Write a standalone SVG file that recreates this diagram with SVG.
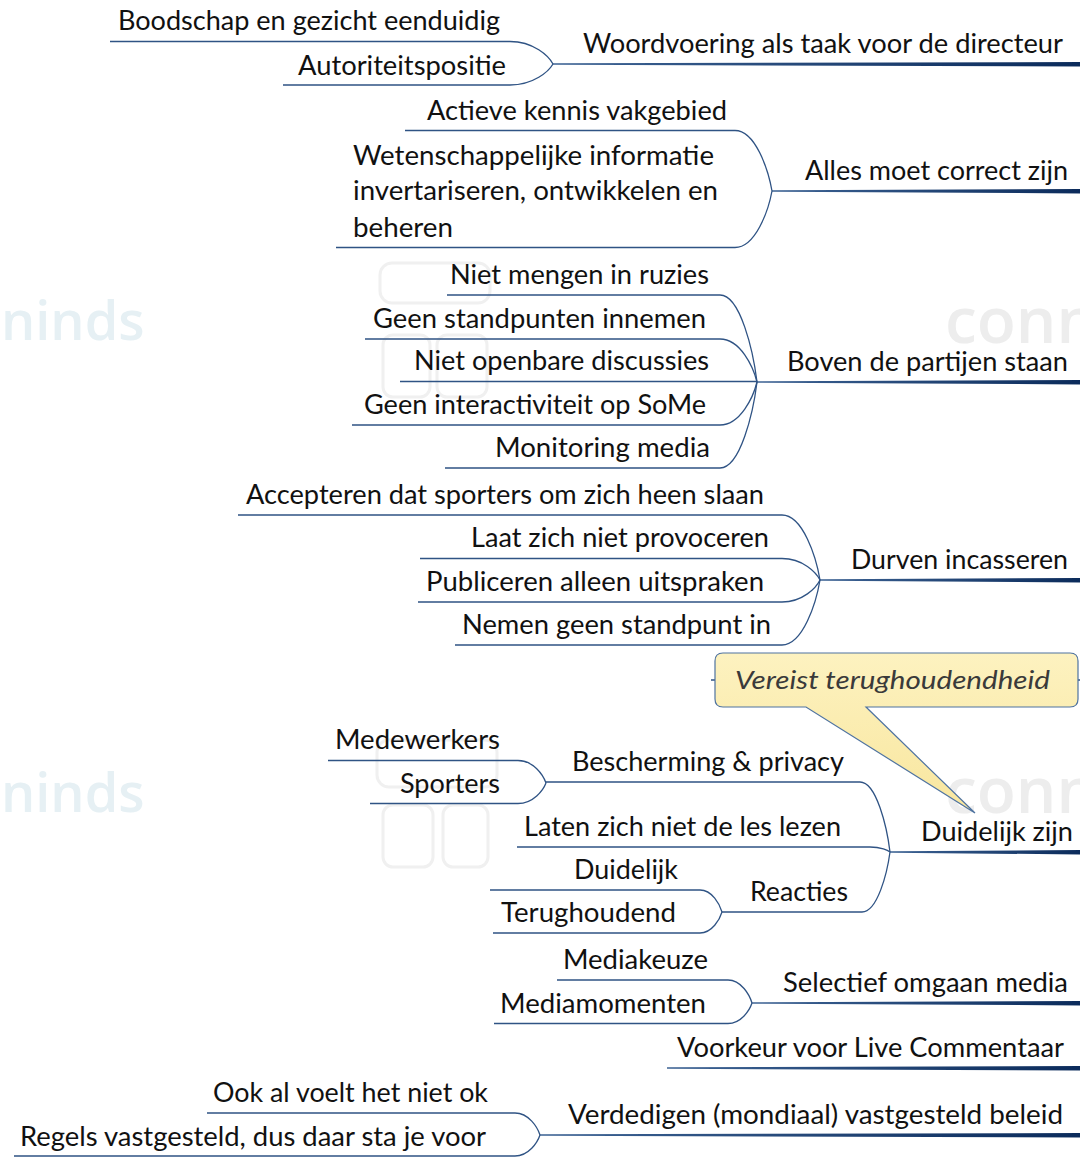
<svg xmlns="http://www.w3.org/2000/svg" width="1080" height="1157" viewBox="0 0 1080 1157">
<defs>
<linearGradient id="thick" x1="0" y1="0" x2="1" y2="0">
<stop offset="0" stop-color="#3d6394"/>
<stop offset="1" stop-color="#0b2b5b"/>
</linearGradient>
<linearGradient id="note" x1="0" y1="0" x2="0" y2="1">
<stop offset="0" stop-color="#fdf2c0"/>
<stop offset="1" stop-color="#f8e69e"/>
</linearGradient>
<style>
text{font-family:Lato,"Liberation Sans",sans-serif;font-size:26px;fill:#111;}
.it{font-style:italic;fill:#3a3a3a;}
.thin{fill:none;stroke:#2f5384;stroke-width:1.3;}
.wm{font-family:"Open Sans","Liberation Sans",sans-serif;font-weight:600;}
.wm1{font-size:54px;fill:#e6f0f4;}
.wm2{font-size:64px;fill:#ededed;}
.ico{fill:none;stroke:#f0f0f0;stroke-width:3;}
</style>
</defs>
<rect width="1080" height="1157" fill="#ffffff"/>

<g id="watermark">
<text class="wm wm1" x="1" y="340">ninds</text>
<text class="wm wm1" x="1" y="812">ninds</text>
<text class="wm wm2" x="945" y="343">conn</text>
<text class="wm wm2" x="945" y="813">conn</text>
<rect class="ico" x="380" y="263" width="110" height="40" rx="12"/>
<rect class="ico" x="383" y="335" width="47" height="62" rx="10"/>
<rect class="ico" x="437" y="335" width="50" height="62" rx="10"/>
<rect class="ico" x="377" y="740" width="120" height="47" rx="12"/>
<rect class="ico" x="383" y="805" width="50" height="62" rx="10"/>
<rect class="ico" x="443" y="805" width="45" height="62" rx="10"/>
</g>

<g id="connectors">
<g fill="url(#thick)">
<polygon points="553,63.3 1080,62 1080,66.4 553,64.8"/>
<polygon points="772,190.3 1080,189 1080,193.4 772,191.8"/>
<polygon points="757,381.3 1080,380 1080,384.4 757,382.8"/>
<polygon points="820,579.3 1080,578 1080,582.4 820,580.8"/>
<polygon points="890,851.3 1080,850 1080,854.4 890,852.8"/>
<polygon points="752,1002.3 1080,1001 1080,1005.4 752,1003.8"/>
<polygon points="667,1067.3 1080,1066 1080,1070.4 667,1068.8"/>
<polygon points="540,1134.3 1080,1133 1080,1137.4 540,1135.8"/>
</g>
<path class="thin" d="M110 41.5 H510 C533.7 41.5 548.7 56.1 553 64"/>
<path class="thin" d="M283 85 H510 C533.7 85 548.7 71.4 553 64"/>
<path class="thin" d="M405 130.5 H735 C755.4 130.5 768.3 169.8 772 191"/>
<path class="thin" d="M336 247.5 H735 C755.4 247.5 768.3 211 772 191"/>
<path class="thin" d="M447 295 H720 C740.4 295 753.3 351.6 757 382"/>
<path class="thin" d="M365 339 H720 C740.4 339 753.3 367 757 382"/>
<path class="thin" d="M400 381.5 H757"/>
<path class="thin" d="M352 425 H720 C740.4 425 753.3 397 757 382"/>
<path class="thin" d="M445 468 H720 C740.4 468 753.3 412.1 757 382"/>
<path class="thin" d="M238 515 H782 C802.9 515 816.2 557.3 820 580"/>
<path class="thin" d="M420 558.5 H782 C802.9 558.5 816.2 572.5 820 580"/>
<path class="thin" d="M418 602 H782 C802.9 602 816.2 587.7 820 580"/>
<path class="thin" d="M455 645 H782 C802.9 645 816.2 602.8 820 580"/>
<path class="thin" d="M328 760.5 H518 C533.4 760.5 543.2 775.1 546 783"/>
<path class="thin" d="M370 803.5 H518 C533.4 803.5 543.2 790.2 546 783"/>
<path class="thin" d="M546 782 H860 C876.5 782 887 827.5 890 852"/>
<path class="thin" d="M517 847 H870 C881 847 888 850.3 890 852"/>
<path class="thin" d="M722 912 H862 C877.4 912 887.2 873 890 852"/>
<path class="thin" d="M490 890 H700 C712.1 890 719.8 904.3 722 912"/>
<path class="thin" d="M493 933 H700 C712.1 933 719.8 919.4 722 912"/>
<path class="thin" d="M557 980 H728 C741.2 980 749.6 995 752 1003"/>
<path class="thin" d="M494 1023.5 H728 C741.2 1023.5 749.6 1010.2 752 1003"/>
<path class="thin" d="M207 1113 H515 C528.8 1113 537.5 1127.3 540 1135"/>
<path class="thin" d="M14 1156 H515 C528.8 1156 537.5 1142.4 540 1135"/>
<path class="thin" d="M711 680 H716 M1078 680 H1080"/>
</g>

<g id="n-woordvoering"><text x="583" y="53" textLength="480" lengthAdjust="spacingAndGlyphs">Woordvoering als taak voor de directeur</text></g>
<g id="n-boodschap"><text x="118" y="30" textLength="382" lengthAdjust="spacingAndGlyphs">Boodschap en gezicht eenduidig</text></g>
<g id="n-autoriteit"><text x="298" y="75" textLength="208" lengthAdjust="spacingAndGlyphs">Autoriteitspositie</text></g>

<g id="n-alles"><text x="805" y="180" textLength="263" lengthAdjust="spacingAndGlyphs">Alles moet correct zijn</text></g>
<g id="n-actieve"><text x="427" y="120" textLength="300" lengthAdjust="spacingAndGlyphs">Actieve kennis vakgebied</text></g>
<g id="n-wetenschap">
<text x="353" y="165" textLength="361" lengthAdjust="spacingAndGlyphs">Wetenschappelijke informatie</text>
<text x="353" y="200" textLength="365" lengthAdjust="spacingAndGlyphs">invertariseren, ontwikkelen en</text>
<text x="353" y="237" textLength="100" lengthAdjust="spacingAndGlyphs">beheren</text>
</g>

<g id="n-boven"><text x="787" y="371" textLength="281" lengthAdjust="spacingAndGlyphs">Boven de partijen staan</text></g>
<g id="n-mengen"><text x="450" y="284" textLength="259" lengthAdjust="spacingAndGlyphs">Niet mengen in ruzies</text></g>
<g id="n-standpunten"><text x="373" y="328" textLength="333" lengthAdjust="spacingAndGlyphs">Geen standpunten innemen</text></g>
<g id="n-openbare"><text x="414" y="370" textLength="295" lengthAdjust="spacingAndGlyphs">Niet openbare discussies</text></g>
<g id="n-interactiviteit"><text x="364" y="414" textLength="342" lengthAdjust="spacingAndGlyphs">Geen interactiviteit op SoMe</text></g>
<g id="n-monitoring"><text x="495" y="457" textLength="215" lengthAdjust="spacingAndGlyphs">Monitoring media</text></g>

<g id="n-durven"><text x="851" y="569" textLength="217" lengthAdjust="spacingAndGlyphs">Durven incasseren</text></g>
<g id="n-accepteren"><text x="246" y="504" textLength="518" lengthAdjust="spacingAndGlyphs">Accepteren dat sporters om zich heen slaan</text></g>
<g id="n-provoceren"><text x="471" y="547" textLength="298" lengthAdjust="spacingAndGlyphs">Laat zich niet provoceren</text></g>
<g id="n-publiceren"><text x="426" y="591" textLength="338" lengthAdjust="spacingAndGlyphs">Publiceren alleen uitspraken</text></g>
<g id="n-nemen"><text x="462" y="634" textLength="309" lengthAdjust="spacingAndGlyphs">Nemen geen standpunt in</text></g>

<g id="n-duidelijkzijn"><text x="921" y="841" textLength="152" lengthAdjust="spacingAndGlyphs">Duidelijk zijn</text></g>
<g id="n-bescherming"><text x="572" y="771" textLength="272" lengthAdjust="spacingAndGlyphs">Bescherming &amp; privacy</text></g>
<g id="n-medewerkers"><text x="335" y="749" textLength="165" lengthAdjust="spacingAndGlyphs">Medewerkers</text></g>
<g id="n-sporters"><text x="400" y="793" textLength="100" lengthAdjust="spacingAndGlyphs">Sporters</text></g>
<g id="n-laten"><text x="524" y="836" textLength="317" lengthAdjust="spacingAndGlyphs">Laten zich niet de les lezen</text></g>
<g id="n-reacties"><text x="750" y="901" textLength="98" lengthAdjust="spacingAndGlyphs">Reacties</text></g>
<g id="n-duidelijk"><text x="574" y="879" textLength="104" lengthAdjust="spacingAndGlyphs">Duidelijk</text></g>
<g id="n-terughoudend"><text x="501" y="922" textLength="175" lengthAdjust="spacingAndGlyphs">Terughoudend</text></g>

<g id="n-callout">
<path d="M723 653 H1070 Q1078 653 1078 661 V699 Q1078 707 1070 707 H866 L975 813 L806 707 H723 Q715 707 715 699 V661 Q715 653 723 653 Z" fill="url(#note)" stroke="#4f73a0" stroke-width="1.2"/>
<text class="it" x="735" y="689" textLength="315" lengthAdjust="spacingAndGlyphs">Vereist terughoudendheid</text>
</g>

<g id="n-selectief"><text x="783" y="992" textLength="285" lengthAdjust="spacingAndGlyphs">Selectief omgaan media</text></g>
<g id="n-mediakeuze"><text x="563" y="969" textLength="145" lengthAdjust="spacingAndGlyphs">Mediakeuze</text></g>
<g id="n-mediamomenten"><text x="500" y="1013" textLength="206" lengthAdjust="spacingAndGlyphs">Mediamomenten</text></g>

<g id="n-voorkeur"><text x="677" y="1057" textLength="387" lengthAdjust="spacingAndGlyphs">Voorkeur voor Live Commentaar</text></g>

<g id="n-verdedigen"><text x="568" y="1124" textLength="495" lengthAdjust="spacingAndGlyphs">Verdedigen (mondiaal) vastgesteld beleid</text></g>
<g id="n-ookal"><text x="213" y="1102" textLength="275" lengthAdjust="spacingAndGlyphs">Ook al voelt het niet ok</text></g>
<g id="n-regels"><text x="20" y="1146" textLength="466" lengthAdjust="spacingAndGlyphs">Regels vastgesteld, dus daar sta je voor</text></g>
</svg>
